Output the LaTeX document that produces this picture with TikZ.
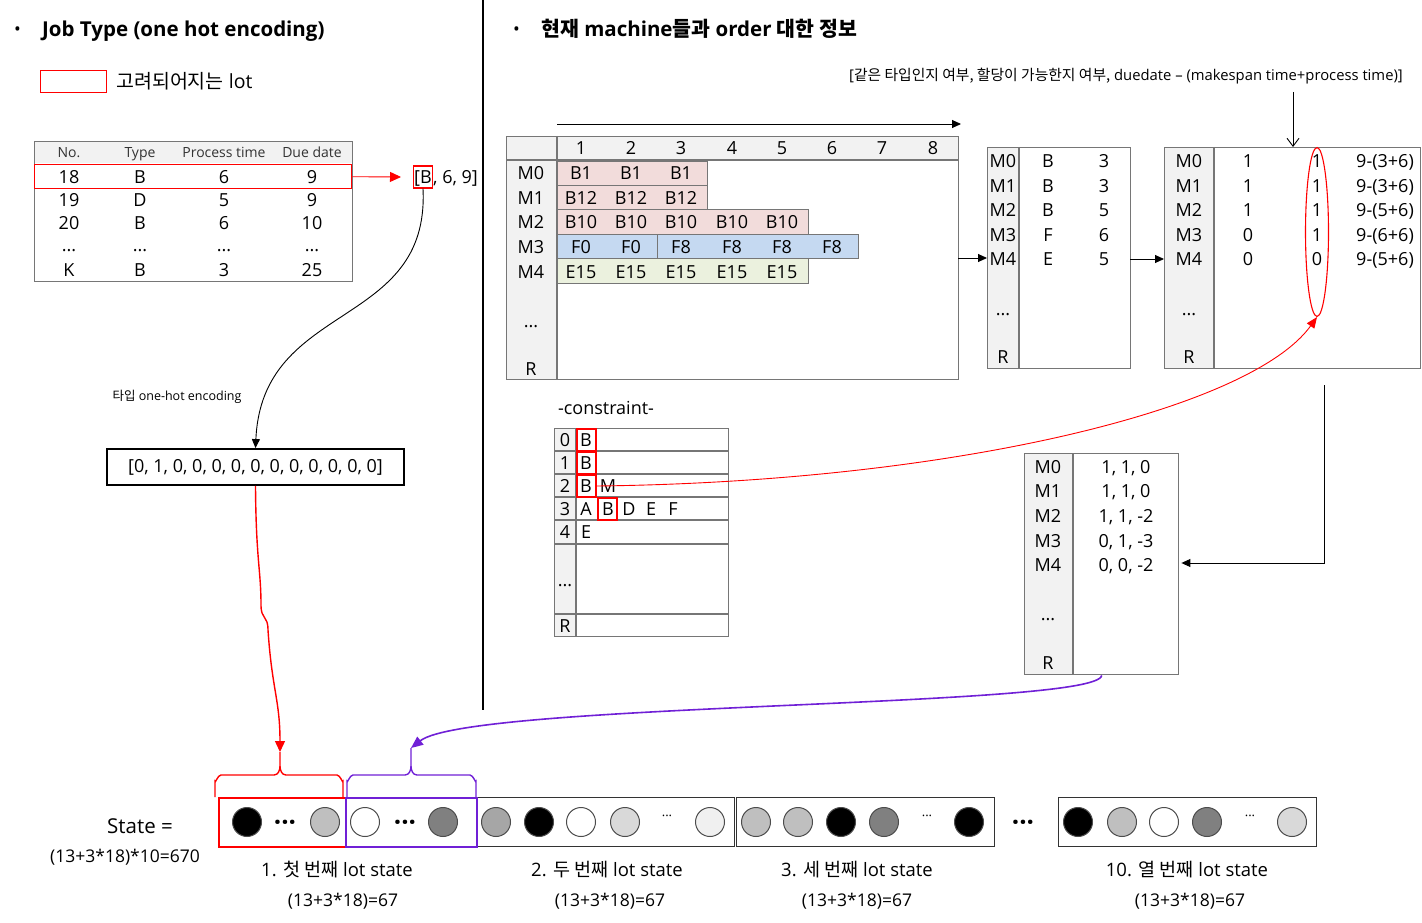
\documentclass[tikz,border=0pt]{standalone}
\usepackage{fontspec}
\setmainfont{Open Sans}
\newfontfamily\kr{Noto Sans CJK KR}
\usetikzlibrary{arrows.meta,calc,shapes.geometric}
\definecolor{pinkc}{RGB}{242,220,219}
\definecolor{bluec}{RGB}{197,217,241}
\definecolor{greenc}{RGB}{235,241,222}
\definecolor{hdr}{RGB}{242,242,242}
\definecolor{lin}{RGB}{118,118,118}
\definecolor{purp}{RGB}{112,32,214}
\definecolor{gA}{RGB}{191,191,191}
\definecolor{gB}{RGB}{128,128,128}
\definecolor{gC}{RGB}{166,166,166}
\definecolor{gD}{RGB}{217,217,217}
\definecolor{gE}{RGB}{240,240,240}
\def\tdots{...}
\tikzset{
 tx/.style={inner sep=0pt, text height=15.8pt, text depth=3pt, font=\fontsize{18}{20}\selectfont},
 tsm/.style={inner sep=0pt, text height=12.5pt, text depth=3pt, font=\fontsize{14}{16}\selectfont},
 tbl/.style={draw=lin, line width=1.4pt, inner sep=0pt, anchor=north west},
 barbox/.style={draw=lin, line width=0.8pt},
 dotc/.style={circle, draw=black!70, line width=1pt, minimum size=29pt, inner sep=0pt},
 redbox/.style={draw=red, line width=1.4pt},
 arr/.style={-{Triangle[length=9pt,width=8pt]}, line width=0.9pt},
 segbox/.style={draw=black!80, line width=1.3pt, inner sep=0pt, anchor=north west},
 bigdots/.style={inner sep=0, font=\bfseries\fontsize{26}{26}\selectfont},
 smdots/.style={inner sep=0, font=\fontsize{13}{13}\selectfont},
}
\begin{document}
\begin{tikzpicture}[x=1pt,y=-1pt]
\useasboundingbox (0,0) rectangle (1422,923);

% divider
\coordinate (dvt) at (483,0);
\coordinate (dvb) at (483,710);
\draw[line width=1.4pt] (dvt) -- (dvb);

% ===== left header
\node[anchor=west, inner sep=0, font=\fontsize{18}{20}\selectfont] (bul1) at (14,31) {•};
\node[anchor=west, inner sep=0, font=\bfseries\fontsize{20.5}{22}\selectfont] (h1) at (42,31) {Job Type (one hot encoding)};
\node[redbox, minimum width=66pt, minimum height=22pt, inner sep=0, anchor=north west] (legbox) at (40,70) {};
\node[anchor=west, inner sep=0, font=\fontsize{19.5}{21}\selectfont] (legtxt) at (116,81) {{\kr 고려되어지는} lot};

% ===== job table
\fill[hdr] (34,141) rectangle (352,163);
\node[tbl, minimum width=318pt, minimum height=140pt] (t1) at (34,141) {};
\foreach \x/\s in {69/No., 140/Type, 224/Process time, 312/Due date}
  \node[tsm, text=black!80] at (\x,153) {\s};
\foreach \y/\a/\b/\c/\d in {177/18/B/6/9, 200/19/D/5/9, 223/20/B/6/10, 245/\tdots/\tdots/\tdots/\tdots, 270/K/B/3/25}{
  \node[tx] at (69,\y) {\a};
  \node[tx] at (140,\y) {\b};
  \node[tx] at (224,\y) {\c};
  \node[tx] at (312,\y) {\d};
}
\node[redbox, minimum width=317pt, minimum height=24pt, inner sep=0, anchor=north west] (r18) at (34,164) {};

% [B, 6, 9]
\node[redbox, tx, inner sep=0.5pt, minimum height=22pt] (bb) at (423,177) {[B};
\node[tx, anchor=west] (b69) at (bb.east) {, 6, 9]};
\draw[red, line width=0.9pt, -{Triangle[length=11pt,width=10pt]}] (r18.east) -- ($(bb.west)+(-12,0)$) coordinate (rtip);

% one-hot box
\node[draw, line width=1.8pt, minimum width=297pt, minimum height=36pt, inner sep=0,
      font=\fontsize{18}{20}\selectfont] (oh) at (255.5,467) {[0,\ 1,\ 0,\ 0,\ 0,\ 0,\ 0,\ 0,\ 0,\ 0,\ 0,\ 0,\ 0]};
\node[inner sep=0, font=\fontsize{12.5}{14}\selectfont] (ohl) at (177,397) {{\kr 타입} one-hot encoding};
\draw[arr] (bb.south) .. controls (430,330) and (262,300) .. (oh.north);

% ===== right header
\node[anchor=west, inner sep=0, font=\fontsize{18}{20}\selectfont] (bul2) at (513,31) {•};
\node[anchor=west, inner sep=0, font=\bfseries\fontsize{20.5}{22}\selectfont] (h2) at (541,29) {{\kr\bfseries 현재} machine{\kr\bfseries 들과} order {\kr\bfseries 대한 정보}};
\node[anchor=east, inner sep=0, font=\fontsize{14.8}{16}\selectfont] (note) at (1403,76)
  {[{\kr 같은 타입인지 여부, 할당이 가능한지 여부,} duedate – (makespan time+process time)]};

% ===== Gantt
\coordinate (tl) at (557,124);
\coordinate (tr) at (961,124);
\draw[arr] (tl) -- (tr);
\fill[hdr] (506,136) rectangle (958,160);
\fill[hdr] (506,160) rectangle (557,379);
\fill[pinkc] (557,161) rectangle (707,185);
\fill[pinkc] (557,185) rectangle (707,209);
\fill[pinkc] (557,209) rectangle (808,234);
\fill[bluec] (557,234) rectangle (858,258);
\fill[greenc] (557,258) rectangle (808,283);
\draw[barbox] (557,161) rectangle (707,185);
\draw[barbox] (557,185) rectangle (707,209);
\draw[barbox] (557,209) rectangle (808,234);
\draw[barbox] (557,234) rectangle (657,258);
\draw[barbox] (657,234) rectangle (858,258);
\draw[barbox] (557,258) rectangle (808,283);
\node[tbl, minimum width=452pt, minimum height=243pt] (g) at (506,136) {};
\draw[draw=lin, line width=1.4pt] (506,160) -- (958,160);
\draw[draw=lin, line width=1.4pt] (557,136) -- (557,379);
\foreach \i/\x in {1/581,2/631,3/681,4/732,5/782,6/832,7/882,8/933}
  \node[tx] at (\x,148) {\i};
\foreach \s/\y in {M0/173,M1/198,M2/222,M3/247,M4/272,\tdots/321,R/369}
  \node[tx] at (531,\y) {\s};
\foreach \x in {581,631,681} { \node[tx] at (\x,173) {B1}; \node[tx] at (\x,198) {B12}; }
\foreach \x in {581,631,681,732,782} { \node[tx] at (\x,222) {B10}; \node[tx] at (\x,272) {E15}; }
\foreach \x in {581,631} \node[tx] at (\x,247) {F0};
\foreach \x in {681,732,782,832} \node[tx] at (\x,247) {F8};

% ===== table 2
\fill[hdr] (987,147) rectangle (1019,368);
\node[tbl, minimum width=143pt, minimum height=221pt] (t2) at (987,147) {};
\draw[draw=lin, line width=1.4pt] (1019,147) -- (1019,368);
\foreach \s/\b/\c/\y in {M0/B/3/161, M1/B/3/186, M2/B/5/210, M3/F/6/235, M4/E/5/259}{
  \node[tx] at (1003,\y) {\s};
  \node[tx] at (1048,\y) {\b};
  \node[tx] at (1104,\y) {\c};
}
\node[tx] at (1003,309) {\tdots};
\node[tx] at (1003,357) {R};
\coordinate (gout) at (958,258);
\draw[arr] (gout) -- (gout -| t2.west);

% ===== table 3
\fill[hdr] (1164,147) rectangle (1214,368);
\node[tbl, minimum width=256pt, minimum height=221pt] (t3) at (1164,147) {};
\draw[draw=lin, line width=1.4pt] (1214,147) -- (1214,368);
\foreach \s/\b/\c/\d/\y in {M0/1/1/9-(3+6)/161, M1/1/1/9-(3+6)/186, M2/1/1/9-(5+6)/210, M3/0/1/9-(6+6)/235, M4/0/0/9-(5+6)/259}{
  \node[tx] at (1189,\y) {\s};
  \node[tx] at (1248,\y) {\b};
  \node[tx] at (1317,\y) {\c};
  \node[tx] at (1385,\y) {\d};
}
\node[tx] at (1189,309) {\tdots};
\node[tx] at (1189,357) {R};
\coordinate (t2out) at (1130,259);
\draw[arr] (t2out) -- (t2out -| t3.west);
\coordinate (na) at (1293,92);
\draw[-{Straight Barb[length=8pt,width=12pt]}, line width=0.9pt] (na) -- (na |- t3.north);
\node[ellipse, draw=red, line width=1.1pt, minimum width=23pt, minimum height=169pt, inner sep=0] (ell) at (1317,232) {};

% ===== lower right table
\fill[hdr] (1024,453) rectangle (1073,674);
\node[tbl, minimum width=154pt, minimum height=221pt] (t4) at (1024,453) {};
\draw[draw=lin, line width=1.4pt] (1073,453) -- (1073,674);
\foreach \s/\v/\y in {M0/{1, 1, 0}/467, M1/{1, 1, 0}/491, M2/{1, 1, -2}/516, M3/{0, 1, -3}/541, M4/{0, 0, -2}/565}{
  \node[tx] at (1048,\y) {\s};
  \node[tx] at (1126,\y) {\v};
}
\node[tx] at (1048,614) {\tdots};
\node[tx] at (1048,663) {R};
\coordinate (t3o) at (1324,385);
\draw[arr] (t3o) |- ($(t4.east |- 0,563)+(2,0)$);

% ===== constraint
\node[tx] (ctit) at (606,408) {-constraint-};
\fill[hdr] (554,428) rectangle (576,636);
\node[tbl, minimum width=174pt, minimum height=208pt] (con) at (554,428) {};
\draw[draw=lin, line width=1.4pt] (576,428) -- (576,636);
\foreach \y in {451,474,497,520,544,614}
  \draw[draw=lin, line width=1.4pt] (554,\y) -- (728,\y);
\foreach \i/\y in {0/440,1/463,2/486,3/509,4/532,R/626}
  \node[tx] at (565,\y) {\i};
\node[tx] at (565,580) {\tdots};
\node[redbox, minimum width=19pt, minimum height=22pt, inner sep=0] (cb0) at (586.5,440) {};
\node[redbox, minimum width=19pt, minimum height=22pt, inner sep=0] (cb1) at (586.5,463) {};
\node[redbox, minimum width=19pt, minimum height=22pt, inner sep=0] (cb2) at (586.5,486) {};
\node[redbox, minimum width=19pt, minimum height=22pt, inner sep=0] (cb3) at (607.5,509) {};
\foreach \y in {440,463,486} \node[tx] at (586,\y) {B};
\node[tx] at (608,486) {M};
\foreach \s/\x in {A/586,B/608,D/629,E/651,F/673} \node[tx] at (\x,509) {\s};
\node[tx] at (586,532) {E};
\draw[red, line width=0.9pt, -{Triangle[length=11pt,width=9pt]}] (cb2.east) .. controls (950,482) and (1250,410) .. (ell.south);

% ===== bottom state
\node[inner sep=0, font=\fontsize{20.5}{22}\selectfont] (stl) at (140,826) {State =};
\node[inner sep=0, font=\fontsize{17.5}{19}\selectfont] (stf) at (125,857) {(13+3*18)*10=670};

\node[segbox, minimum width=258pt, minimum height=49pt] (s3) at (476,797) {};
\node[segbox, minimum width=258pt, minimum height=49pt] (s4) at (736,797) {};
\node[segbox, minimum width=258pt, minimum height=49pt] (s10) at (1058,797) {};
\node[segbox, draw=red, line width=1.6pt, minimum width=127pt, minimum height=49pt] (s1) at (218,797) {};
\node[segbox, draw=purp, line width=1.6pt, minimum width=131pt, minimum height=49pt] (s2) at (345,797) {};

\node[dotc, fill=black] at (247,822) {};
\node[dotc, fill=gA] at (325,822) {};
\node[dotc, fill=white] at (365,822) {};
\node[dotc, fill=gB] at (443,822) {};
\node[bigdots] at (285,826) {···};
\node[bigdots] at (405,826) {···};

\foreach \x/\c in {496/gC, 539/black, 581/white, 625/gD, 710/gE, 756/gA, 798/gA, 841/black, 884/gB, 969/black, 1078/black, 1122/gA, 1164/white, 1207/gB, 1292/gD}
  \node[dotc, fill=\c] at (\x,822) {};
\foreach \x in {667,927,1250}
  \node[smdots] at (\x,818) {···};
\node[bigdots] (gap) at (1023,826) {···};

\foreach \x/\s/\fx in {337/{1. {\kr 첫 번째} lot state}/343, 607/{2. {\kr 두 번째} lot state}/610, 857/{3. {\kr 세 번째} lot state}/857, 1187/{10. {\kr 열 번째} lot state}/1190}{
  \node[inner sep=0, font=\fontsize{18.5}{20}\selectfont] at (\x,870) {\s};
  \node[inner sep=0, font=\fontsize{17.5}{19}\selectfont] at (\fx,901) {(13+3*18)=67};
}

% braces
\coordinate (b1tip) at (280,752);
\coordinate (b2tip) at (411,748);
\draw[red, line width=1.4pt] (215,797) -- (215,781) to[out=-90,in=180] (221,775) -- (274,775)
   to[out=0,in=-90] (280,766) -- (b1tip) (280,766) to[out=-90,in=180] (286,775) -- (337,775)
   to[out=0,in=-90] (343,781) -- (343,797);
\draw[purp, line width=1.4pt] (347,797) -- (347,781) to[out=-90,in=180] (353,775) -- (405,775)
   to[out=0,in=-90] (411,766) -- (b2tip) (411,766) to[out=-90,in=180] (417,775) -- (470,775)
   to[out=0,in=-90] (476,781) -- (476,797);

% connectors to braces
\draw[red, line width=1.4pt, -{Triangle[length=11pt,width=10pt]}] (oh.south) .. controls (256,560) and (261,570) .. (261,605)
   .. controls (261,620) and (268,615) .. (268,630) .. controls (272,690) and (280,700) .. (b1tip);
\draw[purp, line width=1.6pt, -{Triangle[length=12pt,width=10pt]}] (t4.south) .. controls (1098,708) and (470,702) .. (b2tip);
\end{tikzpicture}
\end{document}
